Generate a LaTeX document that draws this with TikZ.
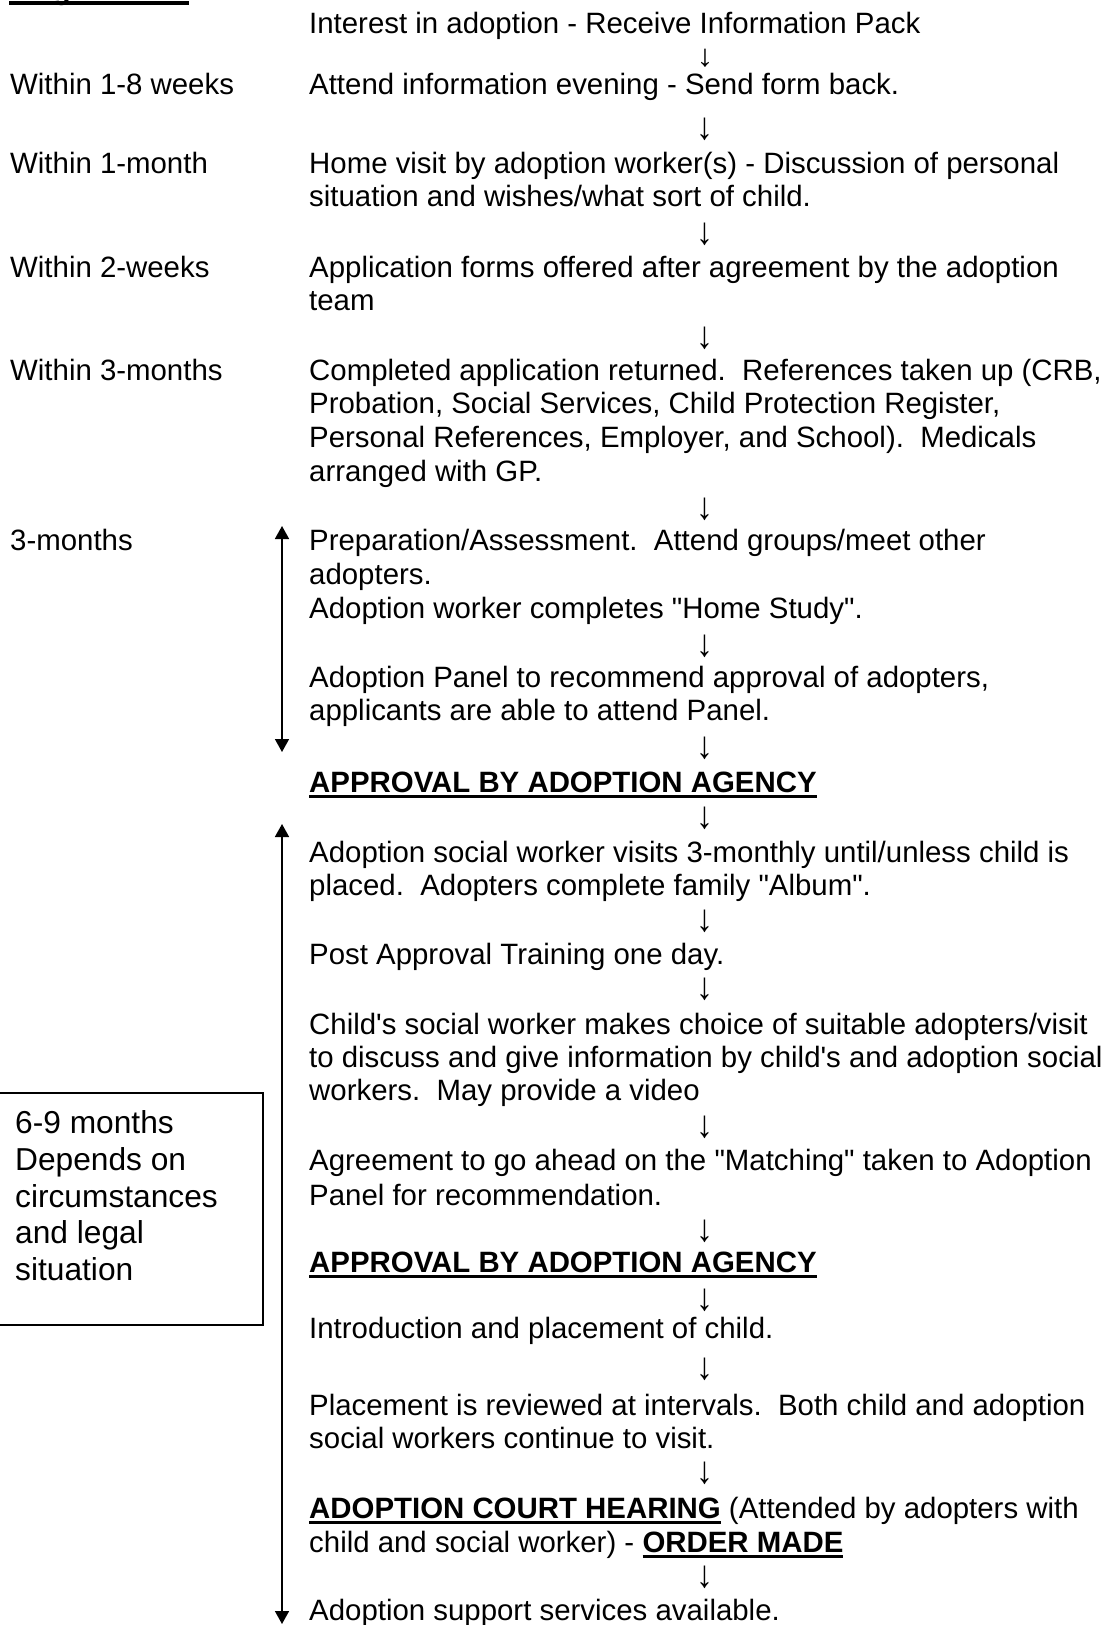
\documentclass[tikz,border=0pt]{standalone}
\usepackage{graphicx}
\usepackage{fontspec}
\newfontfamily\arialf{Liberation Sans}
\usetikzlibrary{arrows.meta}
\newsavebox\ulbox
\newcommand\myul[1]{\sbox\ulbox{#1}\rlap{\rule[-6pt]{\wd\ulbox}{3pt}}\usebox\ulbox}
\newcommand\hdul[1]{\sbox\ulbox{#1}\rlap{\rule[-6pt]{\wd\ulbox}{4pt}}\usebox\ulbox}
\newcommand\dn{\scalebox{1.15}[1.3]{↓}}
\newcommand\dnshort{\scalebox{1.15}[1.05]{↓}}
\begin{document}
\begin{tikzpicture}[x=1pt,y=-1pt,
  txt/.style={anchor=base west,inner sep=0pt,font=\arialf\fontsize{29.4}{33.4}\selectfont\frenchspacing},
  boxtxt/.style={anchor=base west,inner sep=0pt,font=\arialf\fontsize{31.7}{36.6}\selectfont},
  darr/.style={anchor=center,inner sep=0pt,font=\arialf\fontsize{29.4}{33.4}\selectfont},
  span/.style={{Triangle[length=13pt,width=14pt]}-{Triangle[length=13pt,width=14pt]},line width=1.6pt},
  frame/.style={draw,line width=1.5pt}]
\useasboundingbox (0,0) rectangle (1101,1625);
% header (cut off at top)
\node[txt] (hdr) at (9,-1) {\bfseries\hdul{Target Times}};
% left column
\node[txt] (t1) at (10,94) {Within 1-8 weeks};
\node[txt] (t2) at (10,173) {Within 1-month};
\node[txt] (t3) at (10,277) {Within 2-weeks};
\node[txt] (t4) at (10,380) {Within 3-months};
\node[txt] (t5) at (10,550) {3-months};
% main column
\node[txt] (s1) at (309,33) {Interest in adoption - Receive Information Pack};
\node[darr] (a1) at (705,58) {\dnshort};
\node[txt] (s2) at (309,94) {Attend information evening - Send form back.};
\node[darr] (a2) at (705,129) {\dn};
\node[txt] (s3a) at (309,173) {Home visit by adoption worker(s) - Discussion of personal};
\node[txt] (s3b) at (309,206) {situation and wishes/what sort of child.};
\node[darr] (a3) at (705,234) {\dn};
\node[txt] (s4a) at (309,277) {Application forms offered after agreement by the adoption};
\node[txt] (s4b) at (309,310) {team};
\node[darr] (a4) at (705,338) {\dn};
\node[txt] (s5a) at (309,380) {Completed application returned.~ References taken up (CRB,};
\node[txt] (s5b) at (309,413.4) {Probation, Social Services, Child Protection Register,};
\node[txt] (s5c) at (309,447) {Personal References, Employer, and School).~ Medicals};
\node[txt] (s5d) at (309,481) {arranged with GP.};
\node[darr] (a5) at (705,509) {\dn};
\node[txt] (s6a) at (309,550) {Preparation/Assessment.~ Attend groups/meet other};
\node[txt] (s6b) at (309,584) {adopters.};
\node[txt] (s6c) at (309,618) {Adoption worker completes "Home Study".};
\node[darr] (a6) at (705,646) {\dn};
\node[txt] (s7a) at (309,687) {Adoption Panel to recommend approval of adopters,};
\node[txt] (s7b) at (309,720) {applicants are able to attend Panel.};
\node[darr] (a7) at (705,748) {\dn};
\node[txt] (s8) at (309,792) {\bfseries\myul{APPROVAL BY ADOPTION AGENCY}};
\node[darr] (a8) at (705,818) {\dn};
\node[txt] (s9a) at (309,862) {Adoption social worker visits 3-monthly until/unless child is};
\node[txt] (s9b) at (309,895) {placed.~ Adopters complete family "Album".};
\node[darr] (a9) at (705,921) {\dn};
\node[txt] (s10) at (309,964) {Post Approval Training one day.};
\node[darr] (a10) at (705,989) {\dn};
\node[txt] (s11a) at (309,1034) {Child's social worker makes choice of suitable adopters/visit};
\node[txt] (s11b) at (309,1067) {to discuss and give information by child's and adoption social};
\node[txt] (s11c) at (309,1100) {workers.~ May provide a video};
\node[darr] (a11) at (705,1127) {\dn};
\node[txt] (s12a) at (309,1170) {Agreement to go ahead on the "Matching" taken to Adoption};
\node[txt] (s12b) at (309,1205) {Panel for recommendation.};
\node[darr] (a12) at (705,1231) {\dn};
\node[txt] (s13) at (309,1272) {\bfseries\myul{APPROVAL BY ADOPTION AGENCY}};
\node[darr] (a13) at (705,1300) {\dn};
\node[txt] (s14) at (309,1338) {Introduction and placement of child.};
\node[darr] (a14) at (705,1369) {\dn};
\node[txt] (s15a) at (309,1415) {Placement is reviewed at intervals.~ Both child and adoption};
\node[txt] (s15b) at (309,1448) {social workers continue to visit.};
\node[darr] (a15) at (705,1473) {\dn};
\node[txt] (s16a) at (309,1518) {\textbf{\myul{ADOPTION COURT HEARING}} (Attended by adopters with};
\node[txt] (s16b) at (309,1552) {child and social worker) - \textbf{\myul{ORDER MADE}}};
\node[darr] (a16) at (705,1577) {\dn};
\node[txt] (s17) at (309,1620) {Adoption support services available.};
% time-span arrows
\coordinate (p1top) at (282,526);
\coordinate (p1bot) at (282,752);
\coordinate (p2top) at (282,824);
\coordinate (p2bot) at (282,1624);
\draw[span] (p1top) -- (p1bot);
\draw[span] (p2top) -- (p2bot);
% side box
\draw[frame] (-5,1093) rectangle (263,1325);
\node[boxtxt] (bx1) at (15,1133) {6-9 months};
\node[boxtxt] (bx2) at (15,1170) {Depends on};
\node[boxtxt] (bx3) at (15,1207) {circumstances};
\node[boxtxt] (bx4) at (15,1243) {and legal};
\node[boxtxt] (bx5) at (15,1280) {situation};
\end{tikzpicture}
\end{document}
